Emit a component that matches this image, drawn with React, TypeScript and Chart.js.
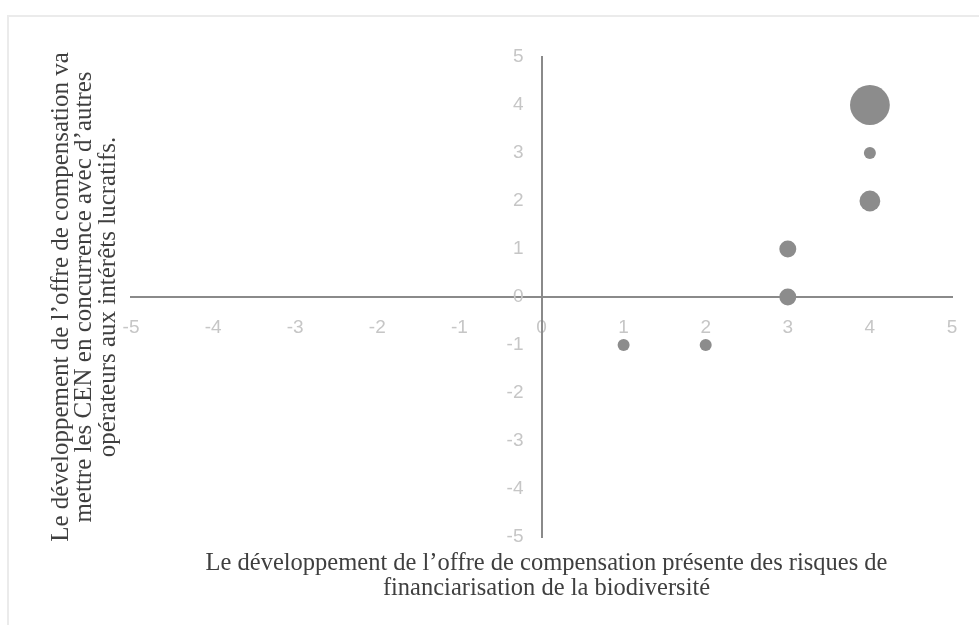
import React, { useEffect, useRef } from "react";
import { Chart, registerables } from "chart.js";

Chart.register(...registerables);

// Data
const xValues = [4, 4, 4, 3, 3, 1, 2];
const yValues = [4, 3, 2, 1, 0, -1, -1];
const counts = [11, 1, 3, 2, 2, 1, 1];

const axisMin = -5;
const axisMax = 5;

const yTitleLines = [
  "Le développement de l’offre de compensation va",
  "mettre les CEN en concurrence avec d’autres",
  "opérateurs aux intérêts lucratifs.",
];
const xTitleLines = [
  "Le développement de l’offre de compensation présente des risques de",
  "financiarisation de la biodiversité",
];

const TITLE_COLOR = "#3f3f3f";
const AXIS_COLOR = "#8a8a8a";
const TICK_COLOR = "#c6c6c6";
const BUBBLE_COLOR = "#8c8c8c";
const TICK_FONT_FAMILY = "'Liberation Sans Narrow', 'Liberation Sans', Arial, sans-serif";
const TICK_FONT_SIZE = 19;

const axisTitlesPlugin = {
  id: "axisTitles",
  afterDraw(chart: any) {
    const { ctx, chartArea } = chart;
    ctx.save();
    ctx.fillStyle = TITLE_COLOR;
    ctx.textAlign = "center";
    ctx.textBaseline = "middle";
    ctx.font = "24.5px 'Liberation Serif', serif";
    const cx = (chartArea.left + chartArea.right) / 2 + 5;
    xTitleLines.forEach((line, i) => {
      ctx.fillText(line, cx, chartArea.bottom + 27 + i * 25);
    });
    ctx.font = "25px 'Liberation Serif', serif";
    const cy = (chartArea.top + chartArea.bottom) / 2;
    yTitleLines.forEach((line, i) => {
      ctx.save();
      ctx.translate(chartArea.left - 70 + i * 23.5, cy);
      ctx.rotate(-Math.PI / 2);
      ctx.fillText(line, 0, 0);
      ctx.restore();
    });
    ctx.restore();
  },
};

// Draws the y-axis tick labels (from the library's own ticks) to the left of the centred axis
const yTickLabelsPlugin = {
  id: "yTickLabels",
  beforeDatasetsDraw(chart: any) {
    const { ctx } = chart;
    const yScale = chart.scales.y;
    const axisX = chart.scales.x.getPixelForValue(0);
    ctx.save();
    ctx.fillStyle = TICK_COLOR;
    ctx.font = `${TICK_FONT_SIZE}px ${TICK_FONT_FAMILY}`;
    ctx.textAlign = "right";
    ctx.textBaseline = "middle";
    yScale.ticks.forEach((t: any) => {
      ctx.fillText(String(t.label ?? t.value), axisX - 18, yScale.getPixelForValue(t.value));
    });
    ctx.restore();
  },
};

export default function App() {
  const canvasRef = useRef<HTMLCanvasElement | null>(null);

  useEffect(() => {
    if (!canvasRef.current) return;
    const points = xValues.map((x, i) => ({
      x,
      y: yValues[i],
      r: 6 * Math.sqrt(counts[i]),
    }));
    const tickFont = { family: TICK_FONT_FAMILY, size: TICK_FONT_SIZE };
    const chart = new Chart(canvasRef.current, {
      type: "bubble",
      data: {
        datasets: [
          {
            data: points,
            backgroundColor: BUBBLE_COLOR,
            borderWidth: 0,
            hoverBorderWidth: 0,
          },
        ],
      },
      options: {
        animation: false,
        responsive: false,
        events: [],
        layout: { padding: { left: 131, top: 57, right: 27, bottom: 88 } },
        plugins: {
          legend: { display: false },
          tooltip: { enabled: false },
        },
        scales: {
          x: {
            type: "linear",
            min: axisMin,
            max: axisMax,
            position: { y: 0 } as any,
            grid: { display: false, drawTicks: false },
            border: { display: true, color: AXIS_COLOR, width: 2 },
            ticks: {
              stepSize: 1,
              padding: 19,
              color: TICK_COLOR,
              font: tickFont,
              maxRotation: 0,
              autoSkip: false,
            },
          },
          y: {
            type: "linear",
            min: axisMin,
            max: axisMax,
            position: { x: 0 } as any,
            grid: { display: false, drawTicks: false },
            border: { display: true, color: AXIS_COLOR, width: 2 },
            ticks: {
              stepSize: 1,
              color: "rgba(0,0,0,0)",
              font: tickFont,
              autoSkip: false,
            },
          },
        },
      },
      plugins: [yTickLabelsPlugin, axisTitlesPlugin],
    });
    return () => chart.destroy();
  }, []);

  return (
    <div
      style={{
        position: "absolute",
        left: 0,
        top: 0,
        width: 979,
        height: 625,
        overflow: "hidden",
        background: "#ffffff",
      }}
    >
      <div
        style={{
          position: "absolute",
          left: 7,
          top: 15,
          width: 1000,
          height: 700,
          border: "2px solid #ebebeb",
          boxSizing: "border-box",
        }}
      />
      <canvas
        ref={canvasRef}
        width={979}
        height={625}
        style={{ position: "absolute", left: 0, top: 0, display: "block" }}
      />
    </div>
  );
}
